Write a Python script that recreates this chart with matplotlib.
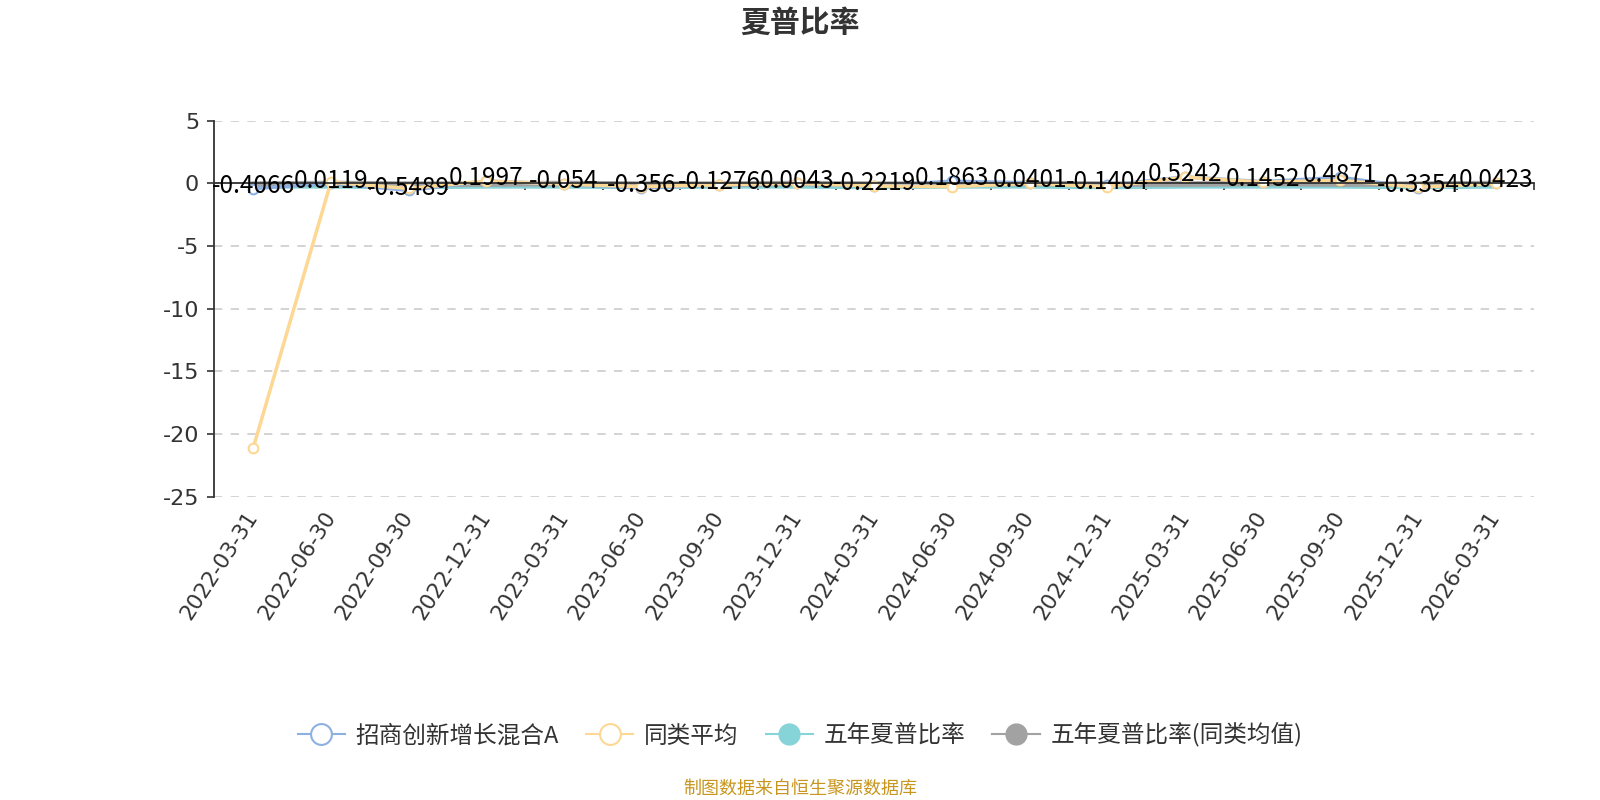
import matplotlib
matplotlib.use("Agg")
import matplotlib.pyplot as plt
from matplotlib.lines import Line2D
import numpy as np

plt.rcParams['font.family'] = ['Noto Sans CJK SC', 'DejaVu Sans']

dates = ["2022-03-31", "2022-06-30", "2022-09-30", "2022-12-31", "2023-03-31",
         "2023-06-30", "2023-09-30", "2023-12-31", "2024-03-31", "2024-06-30",
         "2024-09-30", "2024-12-31", "2025-03-31", "2025-06-30", "2025-09-30",
         "2025-12-31", "2026-03-31"]
fund = [-0.4066, 0.0119, -0.5489, 0.1997, -0.054, -0.356, -0.1276, 0.0043,
        -0.2219, 0.1863, 0.0401, -0.1404, 0.5242, 0.1452, 0.4871, -0.3354, 0.0423]
peer_avg = [-21.1, 0.1, -0.4, 0.2, -0.05, -0.25, -0.1, 0.0,
            -0.2, -0.25, 0.0, -0.25, 0.5, 0.1, 0.25, -0.3, 0.0]
five_year = [-0.25, -0.25, -0.3, -0.25, -0.25, -0.3, -0.25, -0.25,
             -0.3, -0.25, -0.25, -0.3, -0.25, -0.25, -0.25, -0.3, -0.25]
five_year_peer = [-0.05, 0.0, -0.05, -0.05, 0.0, -0.05, -0.05, 0.0,
                  -0.05, -0.05, 0.0, -0.05, -0.05, 0.0, -0.05, -0.05, 0.0]
series_names = ["招商创新增长混合A", "同类平均", "五年夏普比率", "五年夏普比率(同类均值)"]
yticks = [5, 0, -5, -10, -15, -20, -25]

c_fund = '#8eb0e1'
c_peer = '#fdd894'
c_5y = '#86d3d8'
c_5yp = '#a2a2a2'
num_font = ['DejaVu Sans']

fig = plt.figure(figsize=(16, 8), dpi=100)
ax = fig.add_axes([0.134, 0.379, 0.825, 0.470])
x = np.arange(len(dates))

ax.plot(x, five_year, color=c_5y, lw=3, zorder=2)
ax.plot(x, five_year_peer, color=c_5yp, lw=4, zorder=2.1)
ax.plot(x, fund, color=c_fund, lw=2.5, marker='o', ms=7, mfc='white', mec=c_fund, mew=1.5, zorder=3)
ax.plot(x, peer_avg, color=c_peer, lw=2.5, marker='o', ms=7, mfc='white', mec=c_peer, mew=1.5, zorder=4)

for xi, v in zip(x, fund):
    ax.annotate(f"{v}", (xi, v), xytext=(0, 2), textcoords='offset points',
                ha='center', va='center', fontsize=17.5, color='black', zorder=6)

ax.set_xlim(-0.5, len(dates) - 0.5)
ax.set_ylim(-25, 5)
ax.set_yticks(yticks)
ax.set_yticklabels([str(t) for t in yticks], family=num_font)
ax.tick_params(axis='y', labelsize=16, labelcolor='#333333', length=5, width=1.2, color='#333333', pad=6)
for t in yticks:
    ax.axhline(t, color='#cccccc', lw=1.2, ls=(0, (5, 5)), zorder=0)

for s in ['top', 'right']:
    ax.spines[s].set_visible(False)
ax.spines['left'].set_color('#333333')
ax.spines['left'].set_linewidth(1.3)
ax.spines['bottom'].set_position(('data', 0))
ax.spines['bottom'].set_color('#333333')
ax.spines['bottom'].set_linewidth(1.3)
ax.spines['bottom'].set_zorder(5)
ax.set_xticks(np.arange(len(dates) + 1) - 0.5)
ax.set_xticklabels([])
ax.tick_params(axis='x', length=5, width=1.2, color='#333333', direction='out')

sec = ax.secondary_xaxis(0)
sec.set_xticks(x)
sec.set_xticklabels(dates, rotation=57, ha='right', va='center', rotation_mode='anchor', family=num_font)
sec.tick_params(length=0, pad=12, labelsize=15.5, labelcolor='#333333')
sec.spines['bottom'].set_visible(False)

fig.text(0.5, 0.972, "夏普比率", ha='center', va='center', fontsize=21.5, fontweight='bold', color='#333333')

handles = [
    Line2D([0], [0], color=c_fund, lw=1.5, marker='o', ms=15, mfc='white', mec=c_fund, mew=1.5),
    Line2D([0], [0], color=c_peer, lw=1.5, marker='o', ms=15, mfc='white', mec=c_peer, mew=1.5),
    Line2D([0], [0], color=c_5y, lw=1.5, marker='o', ms=15, mfc=c_5y, mec=c_5y),
    Line2D([0], [0], color=c_5yp, lw=1.5, marker='o', ms=15, mfc=c_5yp, mec=c_5yp),
]
fig.legend(handles, series_names, loc='center', bbox_to_anchor=(0.5, 0.081), ncol=4, frameon=False,
           fontsize=17, labelcolor='#333333', handlelength=2.0, handletextpad=0.45, columnspacing=1.15)

fig.text(0.5, 0.014, "制图数据来自恒生聚源数据库", ha='center', va='center', fontsize=13, color='#c8961e')

fig.savefig("out.png", dpi=100)
